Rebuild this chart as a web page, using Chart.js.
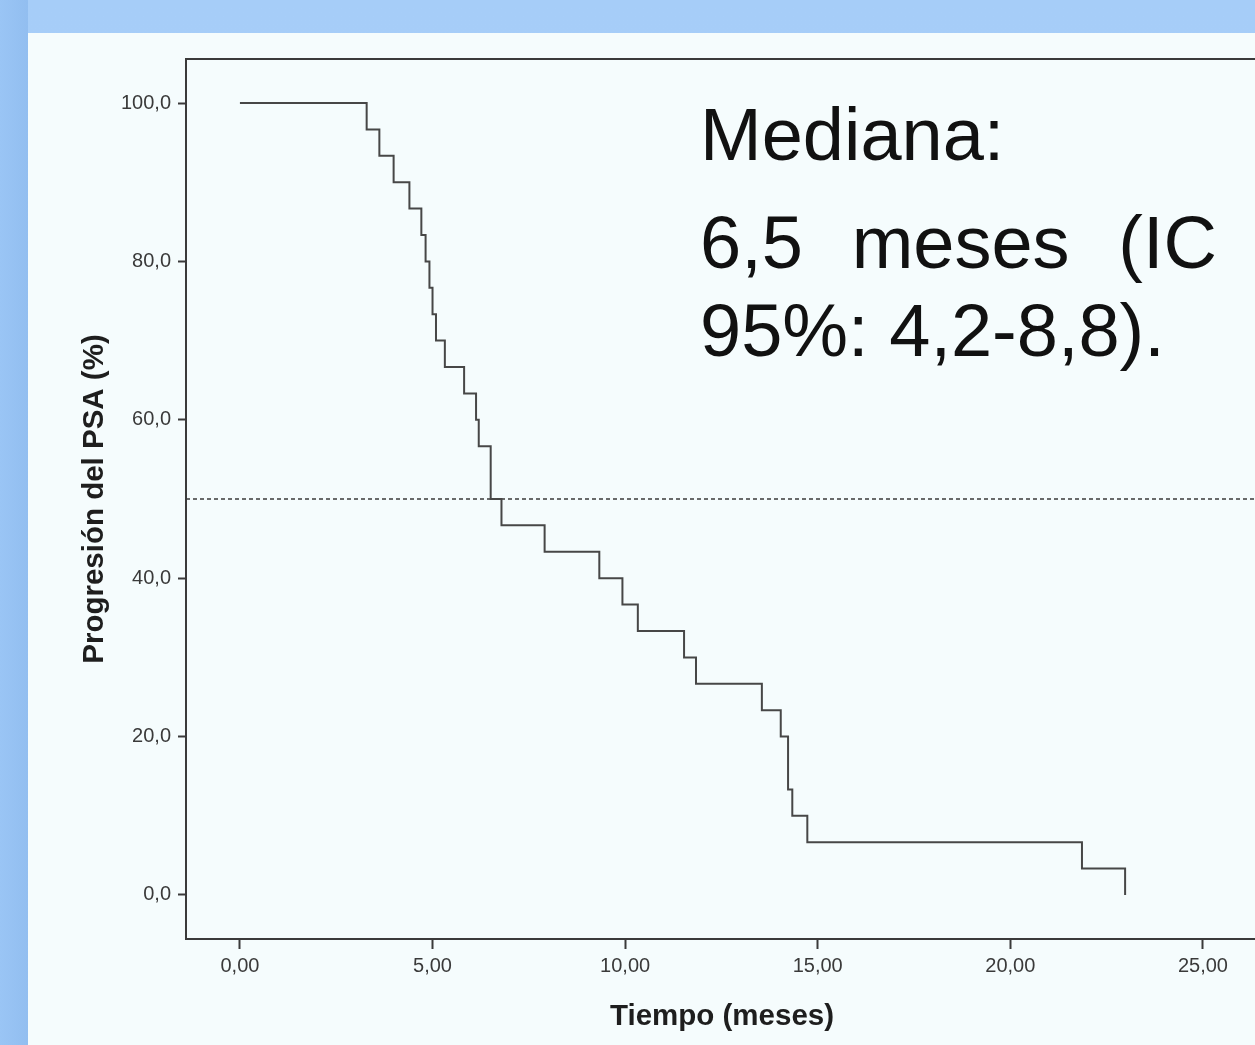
<!DOCTYPE html>
<html lang="es">
<head>
<meta charset="utf-8">
<title>Progresión del PSA</title>
<script src="https://cdn.jsdelivr.net/npm/chart.js@4.4.1/dist/chart.umd.min.js"></script>
<style>
    html, body { margin: 0; padding: 0; overflow: hidden; }
    body { width: 1255px; height: 1045px; background: linear-gradient(to bottom, #a6cdf8, #a9d0f9); position: relative; font-family: "Liberation Sans", Arial, sans-serif; }
    .side-band { position: absolute; left: 0; top: 0; width: 28px; height: 1045px; background: linear-gradient(to right, #9ac5f5, #92bef0); }
    .panel { position: absolute; left: 28px; top: 33px; right: 0; bottom: 0; background: #f5fcfd; }
    .chart-wrap { position: absolute; left: 0; top: 0; width: 1262px; height: 1045px; }
    .note { position: absolute; left: 700px; font-size: 74px; line-height: 74px; color: #111; white-space: nowrap; }
    .note.l1 { top: 98px; }
    .note.l2 { top: 206px; width: 517px; text-align: justify; text-align-last: justify; }
    .note.l3 { top: 294px; }
</style>
</head>
<body>
<div class="side-band"></div>
<div class="panel"></div>
<div class="chart-wrap"><canvas id="km-chart"></canvas></div>
<div class="note l1">Mediana:</div>
<div class="note l2">6,5 meses (IC</div>
<div class="note l3">95%: 4,2-8,8).</div>

<script>
(function () {
    'use strict';

    // ── Data ────────────────────────────────────────────────────────────────
    var times    = [0, 3.29, 3.62, 3.99, 4.40, 4.71, 4.82, 4.92, 5.00, 5.09, 5.32, 5.82, 6.13, 6.20, 6.51,
                    6.79, 7.91, 9.33, 9.93, 10.33, 11.53, 11.84, 13.55, 14.04, 14.23, 14.34, 14.73, 21.86, 22.98];
    var survival = [100, 96.67, 93.33, 90, 86.67, 83.33, 80, 76.67, 73.33, 70, 66.67, 63.33, 60, 56.67, 50,
                    46.67, 43.33, 40, 36.67, 33.33, 30, 26.67, 23.33, 20, 13.33, 10, 6.67, 3.33, 0];
    var medianLevel = 50;

    var xTicks = [0, 5, 10, 15, 20, 25];
    var yTicks = [0, 20, 40, 60, 80, 100];
    var xRange = [-1.40, 26.43];
    var yRange = [-5.56, 105.56];

    var AXIS  = '#3a3a3a';
    var TICKS = { family: '"Liberation Sans", Arial, sans-serif', size: 20 };
    var TITLE = { family: '"Liberation Sans", Arial, sans-serif', size: 29.5, weight: 'bold' };

    var curve = times.map(function (t, i) { return { x: t, y: survival[i] }; });
    var medianLine = [{ x: xRange[0], y: medianLevel }, { x: xRange[1], y: medianLevel }];

    function fixTicks(list) {
        return function (scale) {
            scale.ticks = list.map(function (v) { return { value: v }; });
        };
    }

    // ── Chart ────────────────────────────────────────────────────────────────
    new Chart(document.getElementById('km-chart'), {
        type: 'line',
        data: {
            datasets: [
                {
                    label: 'Progresión del PSA',
                    data: curve,
                    stepped: 'before',
                    borderColor: '#474747',
                    borderWidth: 2,
                    pointRadius: 0,
                    fill: false
                },
                {
                    label: 'Mediana',
                    data: medianLine,
                    borderColor: '#3a3a3a',
                    borderWidth: 1.6,
                    borderDash: [4, 3],
                    pointRadius: 0,
                    fill: false
                }
            ]
        },
        options: {
            responsive: true,
            maintainAspectRatio: false,
            animation: false,
            devicePixelRatio: 1,
            layout: { padding: { left: 69, top: 59, right: 4, bottom: 0 } },
            plugins: { legend: { display: false }, tooltip: { enabled: false } },
            scales: {
                x: {
                    type: 'linear',
                    position: 'bottom',
                    min: xRange[0],
                    max: xRange[1],
                    afterBuildTicks: fixTicks(xTicks),
                    afterFit: function (scale) { scale.height = 106; },
                    grid: { drawOnChartArea: false, drawTicks: true, tickLength: 10, color: AXIS, tickWidth: 2 },
                    border: { display: true, color: AXIS, width: 2 },
                    ticks: {
                        color: '#3a3a3a', font: TICKS, padding: 5, maxRotation: 0,
                        callback: function (v) { return v.toFixed(2).replace('.', ','); }
                    },
                    title: { display: true, text: 'Tiempo (meses)', color: '#1e1e1e', font: TITLE, padding: { top: 0, bottom: 10 } }
                },
                xTop: {
                    type: 'linear',
                    position: 'top',
                    min: xRange[0],
                    max: xRange[1],
                    afterFit: function (scale) { scale.height = 0; },
                    grid: { display: false, drawTicks: false },
                    border: { display: true, color: AXIS, width: 2 },
                    ticks: { display: false }
                },
                y: {
                    type: 'linear',
                    position: 'left',
                    min: yRange[0],
                    max: yRange[1],
                    afterBuildTicks: fixTicks(yTicks),
                    afterFit: function (scale) { scale.width = 117; },
                    grid: { drawOnChartArea: false, drawTicks: true, tickLength: 8, color: AXIS, tickWidth: 2 },
                    border: { display: true, color: AXIS, width: 2 },
                    ticks: {
                        color: '#3a3a3a', font: TICKS, padding: 7,
                        callback: function (v) { return v.toFixed(1).replace('.', ','); }
                    },
                    title: { display: true, text: 'Progresión del PSA (%)', color: '#1e1e1e', font: TITLE, padding: { top: 8, bottom: 0 } }
                }
            }
        }
    });
})();
</script>
</body>
</html>
